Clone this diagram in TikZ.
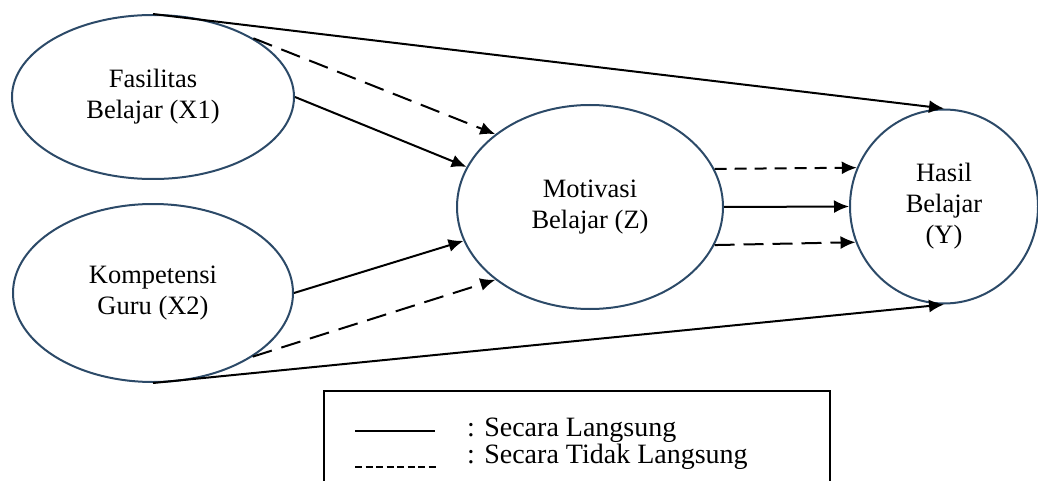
\documentclass[tikz,border=0pt]{standalone}
\usepackage{fontspec}
\setmainfont{Liberation Serif}
\usepackage{tikz}
\usepackage{xcolor}
\definecolor{ovalblue}{RGB}{44,74,104}
\usetikzlibrary{arrows.meta,shapes.geometric}
\tikzset{>={Latex[length=15pt,width=13pt]}}
\tikzset{
  var/.style={ellipse, draw=ovalblue, line width=2pt, align=center, inner sep=0pt,
    font=\fontsize{26.5}{31}\selectfont},
  direct/.style={->, line width=2pt},
  indirect/.style={->, line width=2pt, dash pattern=on 20pt off 10pt},
  keytext/.style={anchor=base west, inner sep=0pt, font=\fontsize{28}{30}\selectfont}
}

\begin{document}
\begin{tikzpicture}[x=10pt, y=10pt]
  \useasboundingbox (0, 0) rectangle (103.8, 48);
  \node[var, minimum width=282pt, minimum height=164pt] (X1) at (15.3, 38.3) {Fasilitas\\Belajar (X1)};
  \node[var, minimum width=280pt, minimum height=178pt] (X2) at (15.3, 18.7) {Kompetensi\\Guru (X2)};
  \node[var, minimum width=266pt, minimum height=204pt] (Z) at (59.0, 27.3) {Motivasi\\Belajar (Z)};
  \node[var, minimum width=188pt, minimum height=194pt] (Y) at (94.4, 27.35) {Hasil\\Belajar\\(Y)};
  \draw[direct] (X1.north) -- (Y.north);
  \draw[indirect] (X1.north east) -- (Z.north west);
  \draw[direct] (X1.east) -- (Z.162);
  \draw[direct] (X2.east) -- (Z.195);
  \draw[indirect] (X2.south east) -- (Z.south west);
  \draw[direct] (X2.south) -- (Y.south);
  \draw[indirect, dash pattern=on 12pt off 8pt] (Z.17.6) -- (Y.156);
  \draw[direct] (Z.east) -- (Y.west);
  \draw[indirect, dash pattern=on 20pt off 9pt] (Z.343.9) -- (Y.202.7);
  \node[draw, line width=2pt, minimum width=506pt, minimum height=100pt, anchor=north west] (legend) at (32.3, 9) {};
  \coordinate (s1) at (35.5, 4.9);
  \coordinate (s2) at (43.5, 4.9);
  \coordinate (d1) at (35.5, 1.3);
  \coordinate (d2) at (43.7, 1.3);
  \draw[line width=2pt] (s1) -- (s2);
  \draw[line width=2pt, dash pattern=on 7pt off 3.5pt] (d1) -- (d2);
  \node[keytext] (ksolid) at (46.7, 4.35) {: Secara Langsung};
  \node[keytext] (kdash) at (46.7, 1.7) {: Secara Tidak Langsung};
\end{tikzpicture}
\end{document}
